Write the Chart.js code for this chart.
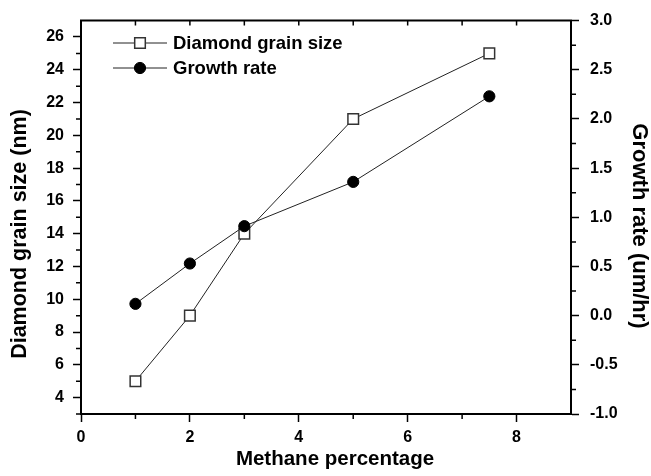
<!DOCTYPE html>
<html>
<head>
<meta charset="utf-8">
<title>Diamond grain size and growth rate</title>
<script src="https://cdn.jsdelivr.net/npm/chart.js@4.4.1/dist/chart.umd.min.js"></script>
<style>
  html, body { margin: 0; padding: 0; background: #fff; }
  #wrap { width: 651px; height: 476px; }
</style>
</head>
<body>
<div id="wrap"><canvas id="grainChart" width="651" height="476"></canvas></div>
<script>
// ---------------- data ---------------- //
const methane = [1, 2, 3, 5, 7.5];
const grainSize = [5, 9, 14, 21, 25];              // nm, left axis
const growthRate = [0.12, 0.53, 0.91, 1.36, 2.23]; // um/hr, right axis

// tick labels
const xTicks = [0, 2, 4, 6, 8];
const leftTicks = [4, 6, 8, 10, 12, 14, 16, 18, 20, 22, 24, 26];
const rightTicks = [-1.0, -0.5, 0.0, 0.5, 1.0, 1.5, 2.0, 2.5, 3.0];

// minor ticks
const xMinor = [1, 3, 5, 7];
const topTicks = [1, 2, 3, 4, 5, 6, 7, 8];
const leftMinor = [3, 5, 7, 9, 11, 13, 15, 17, 19, 21, 23, 25];
const rightMinor = [-0.75, -0.25, 0.25, 0.75, 1.25, 1.75, 2.25, 2.75];

// axis titles
const xTitle = 'Methane percentage';
const leftTitle = 'Diamond grain size (nm)';
const rightTitle = 'Growth rate (um/hr)';

const FONT = '"Liberation Sans", Arial, Helvetica, sans-serif';

const toPoints = (xs, ys) => xs.map((x, i) => ({ x: x, y: ys[i] }));
const asTicks = (list) => list.map(v => ({ value: v }));

// ---------------- frame, minor ticks, titles and legend ---------------- //
const frameTicks = {
    id: 'frameTicks',
    afterDraw(chart) {
        const { ctx, chartArea: a, scales } = chart;
        ctx.save();
        ctx.strokeStyle = '#000';

        // top border line
        ctx.lineWidth = 2;
        ctx.beginPath();
        ctx.moveTo(a.left - 1, a.top);
        ctx.lineTo(a.right + 1, a.top);
        ctx.stroke();

        ctx.lineWidth = 1.5;
        ctx.beginPath();
        // top ticks point inward
        topTicks.forEach(v => {
            const px = scales.x.getPixelForValue(v);
            ctx.moveTo(px, a.top);
            ctx.lineTo(px, a.top + 5);
        });
        xMinor.forEach(v => {
            const px = scales.x.getPixelForValue(v);
            ctx.moveTo(px, a.bottom);
            ctx.lineTo(px, a.bottom + 5);
        });
        leftMinor.forEach(v => {
            const py = scales.y.getPixelForValue(v);
            ctx.moveTo(a.left, py);
            ctx.lineTo(a.left - 5, py);
        });
        rightMinor.forEach(v => {
            const py = scales.y1.getPixelForValue(v);
            ctx.moveTo(a.right, py);
            ctx.lineTo(a.right + 5, py);
        });
        ctx.stroke();

        // axis titles (the original sits a bit off-centre)
        ctx.fillStyle = '#000';
        ctx.textAlign = 'center';
        ctx.textBaseline = 'middle';
        ctx.font = 'bold 20.5px ' + FONT;
        ctx.fillText(xTitle, 335, 459);

        ctx.save();
        ctx.translate(20, 234);
        ctx.rotate(-Math.PI / 2);
        ctx.font = 'bold 21.5px ' + FONT;
        ctx.fillText(leftTitle, 0, 0);
        ctx.restore();

        ctx.save();
        ctx.translate(639, 226);
        ctx.rotate(Math.PI / 2);
        ctx.font = 'bold 22px ' + FONT;
        ctx.fillText(rightTitle, 0, 0);
        ctx.restore();

        // legend
        const rows = [
            { y: 43, ds: chart.data.datasets[0] },
            { y: 68, ds: chart.data.datasets[1] }
        ];
        ctx.font = 'bold 18.5px ' + FONT;
        ctx.textAlign = 'left';
        rows.forEach(r => {
            ctx.strokeStyle = r.ds.borderColor;
            ctx.lineWidth = r.ds.borderWidth;
            ctx.beginPath();
            ctx.moveTo(113, r.y);
            ctx.lineTo(167, r.y);
            ctx.stroke();
            ctx.fillStyle = r.ds.pointBackgroundColor;
            ctx.strokeStyle = r.ds.pointBorderColor;
            ctx.lineWidth = r.ds.pointBorderWidth;
            ctx.beginPath();
            if (r.ds.pointStyle === 'rect') {
                const s = Math.SQRT1_2 * r.ds.pointRadius;
                ctx.rect(140 - s, r.y - s, 2 * s, 2 * s);
            } else {
                ctx.arc(140, r.y, r.ds.pointRadius, 0, Math.PI * 2);
            }
            ctx.fill();
            ctx.stroke();
            ctx.fillStyle = '#000';
            ctx.fillText(r.ds.label, 173, r.y + 1);
        });
        ctx.restore();
    }
};

const ctx = document.getElementById('grainChart').getContext('2d');

new Chart(ctx, {
    type: 'line',
    data: {
        datasets: [{
            label: 'Diamond grain size',
            data: toPoints(methane, grainSize),
            yAxisID: 'y',
            borderColor: '#222',
            borderWidth: 1,
            pointStyle: 'rect',
            pointRadius: 7.5,
            pointBorderWidth: 1.5,
            pointBackgroundColor: '#fff',
            pointBorderColor: '#333',
            order: 2
        }, {
            label: 'Growth rate',
            data: toPoints(methane, growthRate),
            yAxisID: 'y1',
            borderColor: '#222',
            borderWidth: 1,
            pointStyle: 'circle',
            pointRadius: 5.6,
            pointBorderWidth: 1,
            pointBackgroundColor: '#000',
            pointBorderColor: '#000',
            order: 1
        }]
    },
    options: {
        responsive: false,
        animation: false,
        devicePixelRatio: 1,
        layout: { padding: { top: 17, left: 0, right: 0, bottom: 0 } },
        plugins: {
            legend: { display: false },
            tooltip: { enabled: false }
        },
        scales: {
            x: {
                type: 'linear',
                position: 'bottom',
                min: 0,
                max: 9,
                afterBuildTicks: s => { s.ticks = asTicks(xTicks); },
                afterFit: s => { s.height = 62; },
                ticks: {
                    color: '#000',
                    padding: 6,
                    maxRotation: 0,
                    font: { family: FONT, size: 16, weight: 'bold' }
                },
                grid: { drawOnChartArea: false, color: '#000', tickLength: 8, tickWidth: 1.5 },
                border: { color: '#000', width: 2 }
            },
            y: {
                type: 'linear',
                position: 'left',
                min: 3,
                max: 27,
                afterBuildTicks: s => { s.ticks = asTicks(leftTicks); },
                afterFit: s => { s.width = 81; },
                ticks: {
                    color: '#000',
                    padding: 9,
                    font: { family: FONT, size: 16, weight: 'bold' }
                },
                grid: { drawOnChartArea: false, color: '#000', tickLength: 8, tickWidth: 1.5 },
                border: { color: '#000', width: 2 }
            },
            y1: {
                type: 'linear',
                position: 'right',
                min: -1,
                max: 3,
                afterBuildTicks: s => { s.ticks = asTicks(rightTicks); },
                afterFit: s => { s.width = 80; },
                ticks: {
                    color: '#000',
                    padding: 11,
                    callback: v => v.toFixed(1),
                    font: { family: FONT, size: 16, weight: 'bold' }
                },
                grid: { drawOnChartArea: false, color: '#000', tickLength: 8, tickWidth: 1.5 },
                border: { color: '#000', width: 2 }
            }
        }
    },
    plugins: [frameTicks]
});
</script>
</body>
</html>
